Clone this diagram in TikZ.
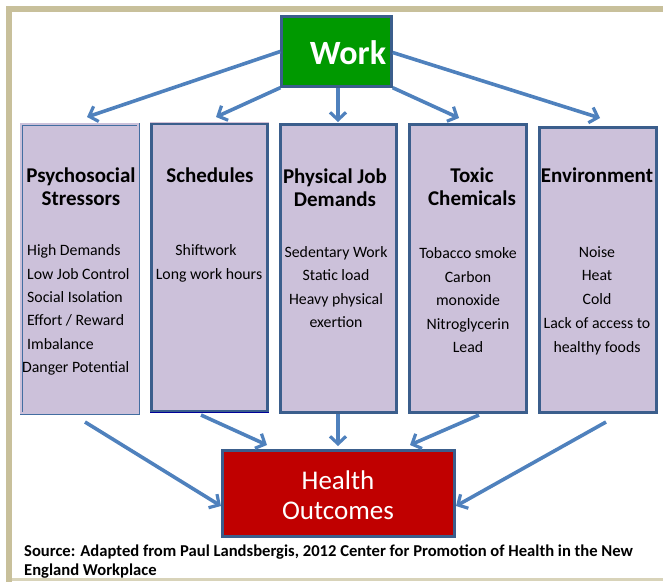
\documentclass[tikz,border=0pt]{standalone}
\usepackage{fontspec}
\setmainfont{Carlito}
\usetikzlibrary{arrows.meta,calc}
\definecolor{frametan}{HTML}{C8C09B}
\definecolor{boxfill}{HTML}{CCC1DA}
\definecolor{boxline}{HTML}{3B5E8C}
\definecolor{arrowblue}{HTML}{4F81BD}
\definecolor{workgreen}{HTML}{009900}
\definecolor{healthred}{HTML}{C00000}
\tikzset{
  catbox/.style={draw=boxline, line width=2.2pt, fill=boxfill, inner sep=0pt},
  flowarrow/.style={draw=arrowblue, line width=3.6pt, -{Straight Barb[length=7.5pt,width=16pt,line width=3.2pt]}},
  titletext/.style={font=\bfseries\fontsize{21}{23.5}\selectfont, align=center, inner sep=0pt},
  itemtext/.style={font=\fontsize{15.8}{23.3}\selectfont, align=center, inner sep=0pt},
}
\begin{document}
\begin{tikzpicture}[x=1pt,y=-1pt]
\useasboundingbox (0,0) rectangle (663,582);
% frame
\fill[frametan] (6,6) rectangle (12,582);
\fill[frametan] (6,6) rectangle (663,12);
\fill[frametan!70] (12,578) rectangle (663,581);

% top box
\node[draw=boxline, line width=2.4pt, fill=workgreen, minimum width=110pt, minimum height=70pt, inner sep=0pt] (work) at (336.5,51.5) {};
\node[font=\bfseries\fontsize{34}{36}\selectfont, text=white, inner sep=0pt] (worktxt) at (348,53) {Work};

% category boxes
\node[draw=arrowblue!85!black, double=boxfill, double distance=1.6pt, line width=0.7pt, fill=boxfill, minimum width=117pt, minimum height=289pt, inner sep=0pt] (ps) at (79.5,268.5) {};
\node[catbox, minimum width=116pt, minimum height=288pt] (sc) at (209.5,267.5) {};
\draw[boxfill!85!pink, line width=1.6pt] (sc.north west) -- (sc.north east);
\draw[blue!60!black, line width=1.6pt] (sc.south west) -- (sc.south east);
\node[catbox, minimum width=116pt, minimum height=288pt] (pj) at (338.5,268.5) {};
\node[catbox, minimum width=117pt, minimum height=288pt] (tc) at (468,268.5) {};
\node[catbox, minimum width=117pt, minimum height=285pt] (en) at (598,270) {};

% titles
\node[titletext] (pst) at (81,186.5) {Psychosocial\\Stressors};
\node[titletext] (sct) at (210,175) {Schedules};
\node[titletext] (pjt) at (335,187.5) {Physical Job\\Demands};
\node[titletext] (tct) at (472,186.5) {Toxic\\Chemicals};
\node[titletext] (ent) at (597,175) {Environment};

% items
\node[itemtext, align=left, anchor=west] (psi) at (27,310) {High Demands\\Low Job Control\\Social Isolation\\Effort / Reward\\Imbalance\\\hspace*{-5pt}Danger Potential};
\node[itemtext] (sci) at (209,263.5) {\hspace*{-6pt}Shiftwork\\Long work hours};
\node[itemtext] (pji) at (336,287) {Sedentary Work\\Static load\\Heavy physical\\exertion};
\node[itemtext, font=\fontsize{15.8}{23.5}\selectfont] (tci) at (468,300.5) {Tobacco smoke\\Carbon\\monoxide\\Nitroglycerin\\Lead};
\node[itemtext, font=\fontsize{15.8}{23.7}\selectfont] (eni) at (597,300.5) {Noise\\Heat\\Cold\\Lack of access to\\healthy foods};

% health box
\node[draw=boxline, line width=2.4pt, fill=healthred, minimum width=232pt, minimum height=86pt, inner sep=0pt] (ho) at (338.5,493.5) {};
\node[font=\fontsize{27}{30}\selectfont, text=white, align=center, inner sep=0pt] (hot) at (338,495) {Health\\Outcomes};

% arrows from work
\coordinate (t1) at (87,117);
\coordinate (t2) at (216,117);
\coordinate (t3) at (338,122);
\coordinate (t4) at (459,118);
\coordinate (t5) at (600,118);
\draw[flowarrow] (work.west) -- (t1);
\draw[flowarrow] (work.south west) -- (t2);
\draw[flowarrow] (work.south -| t3) -- (t3);
\draw[flowarrow] (work.south east) -- (t4);
\draw[flowarrow] ($(work.east)+(0,1)$) -- (t5);

% arrows to health
\coordinate (s1) at (85,422);
\coordinate (s2) at (201,415);
\coordinate (s3) at (338,414);
\coordinate (s4) at (479,415);
\coordinate (s5) at (606,422);
\coordinate (e1) at (221,506);
\coordinate (e2) at (267,445);
\coordinate (e3) at (338,446);
\coordinate (e4) at (410,445);
\coordinate (e5) at (456,506);
\draw[flowarrow] (s1) -- (e1);
\draw[flowarrow] (s2) -- (e2);
\draw[flowarrow] (s3) -- (e3);
\draw[flowarrow] (s4) -- (e4);
\draw[flowarrow] (s5) -- (e5);

% source
\node[font=\bfseries\fontsize{16.6}{19}\selectfont, align=left, anchor=west, inner sep=0pt] (src) at (24,562) {Source: Adapted from Paul Landsbergis, 2012 Center for Promotion of Health in the New\\England Workplace};
\end{tikzpicture}
\end{document}
